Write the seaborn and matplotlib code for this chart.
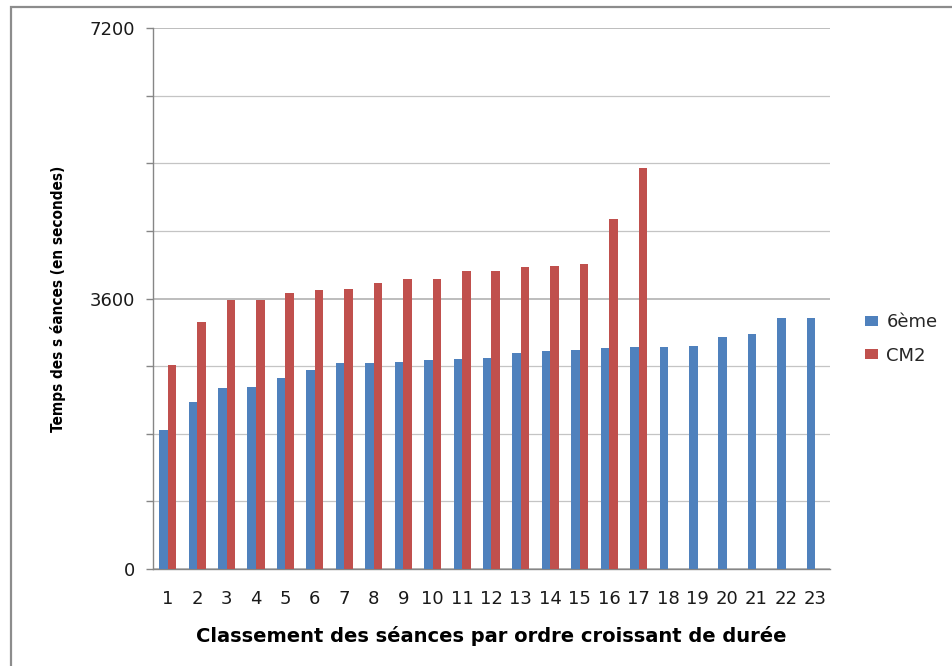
import numpy as np
import pandas as pd
import matplotlib
matplotlib.use("Agg")
import matplotlib.pyplot as plt
from matplotlib.patches import Rectangle
from matplotlib.ticker import MultipleLocator, FixedLocator
import seaborn as sns

# Session durations (seconds), sorted in increasing order
seances = list(range(1, 24))
temps_6eme = [1844, 2229, 2415, 2428, 2547, 2654, 2746, 2746, 2760, 2786, 2800, 2813,
              2879, 2906, 2919, 2945, 2959, 2959, 2972, 3091, 3131, 3343, 3343]
temps_cm2 = [2720, 3290, 3582, 3582, 3675, 3715, 3728, 3808, 3861, 3861, 3967, 3967,
             4020, 4033, 4060, 4657, 5334]
classes = ["6ème", "CM2"]
couleurs = ["#4F81BD", "#C0504D"]
y_ticks_major = [0, 3600, 7200]

cm2_full = temps_cm2 + [np.nan] * (len(seances) - len(temps_cm2))
df = pd.DataFrame({
    "séance": [str(s) for s in seances] * 2,
    "classe": [classes[0]] * len(seances) + [classes[1]] * len(seances),
    "temps": temps_6eme + cm2_full,
})

sns.set_theme(style="white")
plt.rcParams["font.family"] = ["DejaVu Sans"]

fig = plt.figure(figsize=(9.53, 6.66), dpi=100)
ax = fig.add_axes([153 / 953, 1 - 569 / 666, (830 - 153) / 953, (569 - 28) / 666])

sns.barplot(data=df, x="séance", y="temps", hue="classe", hue_order=classes,
            order=[str(s) for s in seances], palette=couleurs, width=0.58,
            errorbar=None, saturation=1, ax=ax, zorder=3, linewidth=0)

ax.set_ylim(0, 7200)
ax.set_xlim(-0.5, len(seances) - 0.5)
ax.yaxis.set_major_locator(FixedLocator(y_ticks_major))
ax.yaxis.set_minor_locator(MultipleLocator(900))
ax.grid(axis="y", which="major", color="#b8b8b8", linewidth=1.3, zorder=0)
ax.grid(axis="y", which="minor", color="#c4c4c4", linewidth=0.9, zorder=0)
ax.set_axisbelow(True)

for side in ["top", "right"]:
    ax.spines[side].set_visible(False)
for side in ["left", "bottom"]:
    ax.spines[side].set_color("#868686")
    ax.spines[side].set_linewidth(1.0)

ax.tick_params(axis="y", which="both", direction="out", length=5, width=1,
               color="#868686", left=True, labelsize=13, pad=8)
ax.tick_params(axis="x", which="both", length=0, labelsize=13, pad=15)
for lab in ax.get_yticklabels() + ax.get_xticklabels():
    lab.set_color("#1a1a1a")

ax.set_xlabel("Classement des séances par ordre croissant de durée",
              fontsize=14, fontweight="bold", labelpad=13, color="black")
ax.set_ylabel("Temps des s éances (en secondes)", fontsize=11, fontweight="bold",
              fontstretch="condensed", labelpad=17, color="black")

leg = ax.legend(loc="center left", bbox_to_anchor=(1.028, 0.425), frameon=False,
                fontsize=13, handlelength=0.72, handleheight=0.5, handletextpad=0.45,
                labelspacing=0.85)

# outer chart frame
fig.patches.append(Rectangle((11 / 953, -0.1), 1.2, (666 - 6.5) / 666 + 0.1,
                             transform=fig.transFigure, fill=False,
                             edgecolor="#8c8c8c", linewidth=1.6))

fig.savefig("out.png", dpi=100)
